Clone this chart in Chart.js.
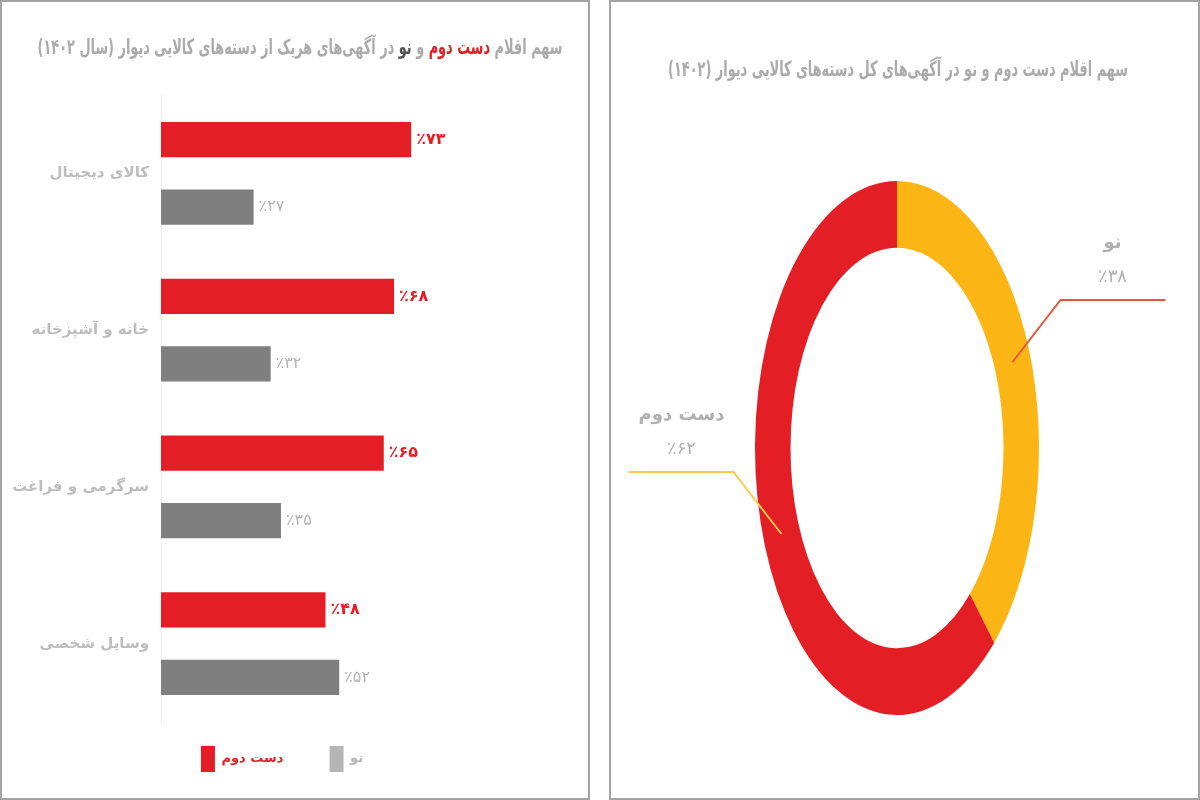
<!DOCTYPE html>
<html lang="fa">
<head>
<meta charset="utf-8">
<script src="https://cdn.jsdelivr.net/npm/chart.js@4/dist/chart.umd.min.js"></script>
<style>
  html,body{margin:0;padding:0;background:#fff;}
  body{width:1200px;height:800px;position:relative;overflow:hidden;font-family:"DejaVu Sans",sans-serif;}
  .panel{position:absolute;top:0;height:796px;border:2px solid #a3a3a3;background:#fff;}
  #left{left:0;width:586px;}
  #right{left:609px;width:587px;}
  .title{position:absolute;z-index:2;direction:rtl;color:#ababab;font-weight:bold;font-size:21px;line-height:26px;white-space:nowrap;transform-origin:center;}
  .title .red{color:#e31e24;}
  .title .dark{color:#555;}
  canvas{position:absolute;left:0;top:0;}
</style>
</head>
<body>
<div class="panel" id="left">
  <div class="title" data-w="525" style="top:32px;left:298px">سهم اقلام <span class="red">دست دوم</span> و <span class="dark">نو</span> در آگهی‌های هریک از دسته‌های کالایی دیوار (سال ۱۴۰۲)</div>
  <canvas id="bars" width="586" height="796"></canvas>
</div>
<div class="panel" id="right">
  <div class="title" data-w="460" style="top:54px;left:287px">سهم اقلام دست دوم و نو در آگهی‌های کل دسته‌های کالایی دیوار (۱۴۰۲)</div>
  <canvas id="ring" width="587" height="796"></canvas>
</div>
<script>
// داده‌ها
const categories = ["کالای دیجیتال", "خانه و آشپزخانه", "سرگرمی و فراغت", "وسایل شخصی"];
const secondHand = [73, 68, 65, 48];
const brandNew = [27, 32, 35, 52];
const seriesNames = ["دست دوم", "نو"];

const shareNames = ["نو", "دست دوم"];
const shareValues = [38, 62];

const RED = "#e31e24", GRAY = "#7f7f7f", YELLOW = "#fbb616";
const FONT = '"DejaVu Sans",sans-serif';
const STRETCH = 267 / 142; // the ring is drawn as a tall ellipse

const fa = n => String(n).replace(/\d/g, d => "۰۱۲۳۴۵۶۷۸۹"[d]);
const pct = n => "٪" + fa(n);

// the original titles use a condensed face, squeeze them to the same width
document.querySelectorAll(".title").forEach(el => {
  const k = +el.dataset.w / el.offsetWidth;
  el.style.transform = "translateX(-50%) scaleX(" + k + ")";
});

// value labels at the end of each bar
const barValueLabels = {
  id: "barValueLabels",
  afterDatasetsDraw(chart) {
    const ctx = chart.ctx;
    chart.data.datasets.forEach((ds, di) => {
      chart.getDatasetMeta(di).data.forEach((bar, i) => {
        ctx.save();
        ctx.font = (di === 0 ? "bold " : "") + "16px " + FONT;
        ctx.fillStyle = di === 0 ? RED : "#b3b3b3";
        ctx.textAlign = "left";
        ctx.textBaseline = "middle";
        ctx.fillText(pct(ds.data[i]), bar.x + 5, bar.y);
        ctx.restore();
      });
    });
  }
};

const legendBox = [RED, "#b5b5b5"];
const legendText = [RED, "#b5b5b5"];
const legendGap = ["\u2003\u2002\u2009", ""];

new Chart(document.getElementById("bars"), {
  type: "bar",
  data: {
    labels: categories,
    datasets: [
      {label: seriesNames[0], data: secondHand, backgroundColor: RED, categoryPercentage: 0.861, barPercentage: 0.52},
      {label: seriesNames[1], data: brandNew, backgroundColor: GRAY, categoryPercentage: 0.861, barPercentage: 0.52}
    ]
  },
  options: {
    indexAxis: "y",
    responsive: false, animation: false,
    layout: {padding: {left: 0, right: 26, top: 93, bottom: 16}},
    plugins: {
      tooltip: {enabled: false},
      legend: {
        position: "bottom",
        labels: {
          boxWidth: 14, boxHeight: 26, padding: 24,
          font: {family: FONT, size: 13, weight: "bold"},
          generateLabels: chart => chart.data.datasets.map((ds, i) => ({
            text: ds.label + legendGap[i],
            fillStyle: legendBox[i], strokeStyle: legendBox[i], lineWidth: 0,
            fontColor: legendText[i], datasetIndex: i, hidden: false
          }))
        }
      }
    },
    scales: {
      x: {display: false, min: 0, max: 117},
      y: {
        grid: {display: false, drawTicks: false},
        border: {display: true, color: "#ececec"},
        ticks: {color: "#bdbdbd", padding: 12, font: {family: FONT, size: 15, weight: "bold"}},
        afterFit(s) { s.width = 159; }
      }
    }
  },
  plugins: [barValueLabels]
});

// squash the circle into an ellipse while the arcs are drawn
const ellipse = {
  id: "ellipse",
  beforeDatasetsDraw(chart) {
    const {ctx, chartArea: a} = chart;
    const cy = (a.top + a.bottom) / 2;
    ctx.save();
    ctx.translate(0, cy);
    ctx.scale(1, STRETCH);
    ctx.translate(0, -cy);
  },
  afterDatasetsDraw(chart) { chart.ctx.restore(); }
};

const leaderColors = ["#e8553d", "#fcc94e"];
const ringLabels = {
  id: "ringLabels",
  afterDraw(chart) {
    const ctx = chart.ctx;
    const ds = chart.data.datasets[0];
    chart.getDatasetMeta(0).data.forEach((arc, i) => {
      const mid = (arc.startAngle + arc.endAngle) / 2;
      const r = (arc.innerRadius + arc.outerRadius) / 2;
      const side = Math.cos(mid) >= 0 ? 1 : -1;
      const px = arc.x + Math.cos(mid) * r;
      const py = arc.y + Math.sin(mid) * r * STRETCH;
      const ex = px + side * 48, ey = py - 62;
      ctx.save();
      ctx.strokeStyle = leaderColors[i];
      ctx.lineWidth = 2;
      ctx.beginPath();
      ctx.moveTo(px, py);
      ctx.lineTo(ex, ey);
      ctx.lineTo(ex + side * 105, ey);
      ctx.stroke();
      const tx = ex + side * 52;
      ctx.fillStyle = "#b0b0b0";
      ctx.textAlign = "center";
      ctx.textBaseline = "middle";
      ctx.font = "bold 18px " + FONT;
      ctx.fillText(chart.data.labels[i], tx, ey - 57);
      ctx.font = "18px " + FONT;
      ctx.fillText(pct(ds.data[i]), tx, ey - 23);
      ctx.restore();
    });
  }
};

new Chart(document.getElementById("ring"), {
  type: "doughnut",
  data: {
    labels: shareNames,
    datasets: [{data: shareValues, backgroundColor: [YELLOW, RED], borderWidth: 0, clip: false}]
  },
  options: {
    responsive: false, animation: false,
    cutout: "75%",
    layout: {padding: {left: 144, right: 159, top: 304, bottom: 208}},
    plugins: {legend: {display: false}, tooltip: {enabled: false}}
  },
  plugins: [ellipse, ringLabels]
});
</script>
</body>
</html>
